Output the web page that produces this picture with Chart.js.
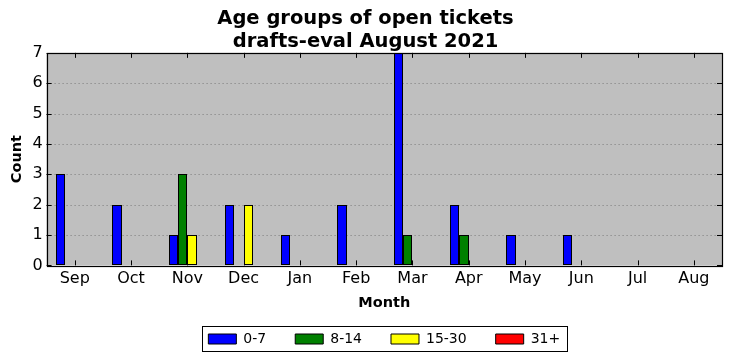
<!DOCTYPE html>
<html>
<head>
<meta charset="utf-8">
<script src="https://cdn.jsdelivr.net/npm/chart.js@4.4.1/dist/chart.umd.min.js"></script>
<style>
  html, body { margin: 0; padding: 0; background: #fff; }
  #wrap { width: 732px; height: 361px; }
</style>
</head>
<body>
<div id="wrap"><canvas id="chart" width="732" height="361"></canvas></div>
<script>
const months = ['Sep', 'Oct', 'Nov', 'Dec', 'Jan', 'Feb', 'Mar', 'Apr', 'May', 'Jun', 'Jul', 'Aug']
const age0to7 = [3, 2, 1, 2, 1, 2, 7, 2, 1, 1, 0, 0]
const age8to14 = [0, 0, 3, 0, 0, 0, 1, 1, 0, 0, 0, 0]
const age15to30 = [0, 0, 1, 2, 0, 0, 0, 0, 0, 0, 0, 0]
const age31plus = [0, 0, 0, 0, 0, 0, 0, 0, 0, 0, 0, 0]

const FONT = 'DejaVu Sans'

// grey plot background, black frame, inward ticks on all four sides, legend box
const mplFrame = {
  id: 'mplFrame',
  afterLayout (chart) {
    // centre the legend under the plot area rather than the canvas
    const lg = chart.legend
    if (!lg) return
    const shift = (chart.chartArea.left + chart.chartArea.right) / 2 - (lg.left + lg.right) / 2
    lg.left += shift
    lg.right += shift
  },
  afterDatasetsUpdate (chart) {
    // snap bar edges to whole pixels so the 1px borders stay crisp
    chart.data.datasets.forEach((d, i) => {
      chart.getDatasetMeta(i).data.forEach((el) => {
        const l = Math.round(el.x - el.width / 2)
        const r = Math.round(el.x + el.width / 2)
        el.x = (l + r) / 2
        el.width = r - l
        el.y = Math.round(el.y)
        el.base = Math.round(el.base)
      })
    })
  },
  beforeDatasetsDraw (chart) {
    const { ctx, chartArea: a } = chart
    ctx.save()
    ctx.fillStyle = '#bfbfbf'
    ctx.fillRect(a.left, a.top, a.right - a.left, a.bottom - a.top)
    // dotted grid
    ctx.strokeStyle = '#7a7a7a'
    ctx.lineWidth = 1
    ctx.setLineDash([1, 3])
    const ys = chart.scales.y
    ys.ticks.forEach((t) => {
      const y = Math.round(ys.getPixelForValue(t.value)) + 0.5
      if (t.value === ys.min || t.value === ys.max) return
      ctx.beginPath()
      ctx.moveTo(a.left, y)
      ctx.lineTo(a.right, y)
      ctx.stroke()
    })
    ctx.restore()
  },
  afterDatasetsDraw (chart) {
    const { ctx, chartArea: a } = chart
    const xs = chart.scales.x
    const ys = chart.scales.y
    ctx.save()
    ctx.strokeStyle = '#000'
    ctx.lineWidth = 1
    ctx.beginPath()
    xs.ticks.forEach((t, i) => {
      const x = Math.round(xs.getPixelForTick(i)) + 0.5
      ctx.moveTo(x, a.bottom); ctx.lineTo(x, a.bottom - 5)
      ctx.moveTo(x, a.top); ctx.lineTo(x, a.top + 5)
    })
    ys.ticks.forEach((t) => {
      const y = Math.round(ys.getPixelForValue(t.value)) + 0.5
      ctx.moveTo(a.left, y); ctx.lineTo(a.left + 5, y)
      ctx.moveTo(a.right, y); ctx.lineTo(a.right - 5, y)
    })
    ctx.stroke()
    ctx.lineWidth = 1.2
    ctx.strokeRect(Math.round(a.left) + 0.5, Math.round(a.top) + 0.5,
      Math.round(a.right - a.left), Math.round(a.bottom - a.top))
    ctx.restore()
  },
  afterDraw (chart) {
    const boxes = chart.legend && chart.legend.legendHitBoxes
    if (!boxes || !boxes.length) return
    const { ctx } = chart
    const l = Math.min(...boxes.map((b) => b.left))
    const r = Math.max(...boxes.map((b) => b.left + b.width))
    const t = Math.min(...boxes.map((b) => b.top))
    const h = Math.max(...boxes.map((b) => b.height))
    ctx.save()
    ctx.strokeStyle = '#000'
    ctx.lineWidth = 1
    ctx.strokeRect(Math.round(l - 6) + 0.5, Math.round(t + h / 2 - 13) + 0.5, Math.round(r - l + 13), 25)
    ctx.restore()
  }
}

function ds (label, data, color) {
  return {
    label,
    data,
    backgroundColor: color,
    borderColor: '#000',
    borderWidth: 1,
    borderSkipped: false,
    inflateAmount: 0,
    categoryPercentage: 4 / 6,
    barPercentage: 1
  }
}

new Chart(document.getElementById('chart').getContext('2d'), {
  type: 'bar',
  data: {
    labels: months,
    datasets: [
      ds('0-7', age0to7, '#0000ff'),
      ds('8-14', age8to14, '#008000'),
      ds('15-30', age15to30, '#ffff00'),
      ds('31+', age31plus, '#ff0000')
    ]
  },
  options: {
    responsive: false,
    animation: false,
    layout: { padding: { left: 9, right: 10, top: 8, bottom: 5 } },
    plugins: {
      title: {
        display: true,
        text: ['Age groups of open tickets', 'drafts-eval August 2021'],
        color: '#000',
        font: { family: FONT, size: 19.5, weight: 'bold', lineHeight: 1.15 },
        padding: { top: 0, bottom: 0 }
      },
      legend: {
        position: 'bottom',
        labels: {
          color: '#000',
          font: { family: FONT, size: 14 },
          boxWidth: 28,
          boxHeight: 10,
          padding: 29
        }
      },
      tooltip: { enabled: false }
    },
    scales: {
      x: {
        grid: { display: false, drawTicks: false },
        border: { display: false },
        ticks: { color: '#000', font: { family: FONT, size: 16 }, padding: 4 },
        title: {
          display: true,
          text: 'Month',
          color: '#000',
          font: { family: FONT, size: 14.5, weight: 'bold' },
          padding: { top: 2, bottom: -9 }
        }
      },
      y: {
        min: 0,
        max: 7,
        grid: { display: false, drawTicks: false },
        border: { display: false },
        ticks: { stepSize: 1, color: '#000', font: { family: FONT, size: 16 }, padding: 4 },
        title: {
          display: true,
          text: 'Count',
          color: '#000',
          font: { family: FONT, size: 14.5, weight: 'bold' },
          padding: { top: 0, bottom: 2 }
        }
      }
    }
  },
  plugins: [mplFrame]
})
</script>
</body>
</html>
